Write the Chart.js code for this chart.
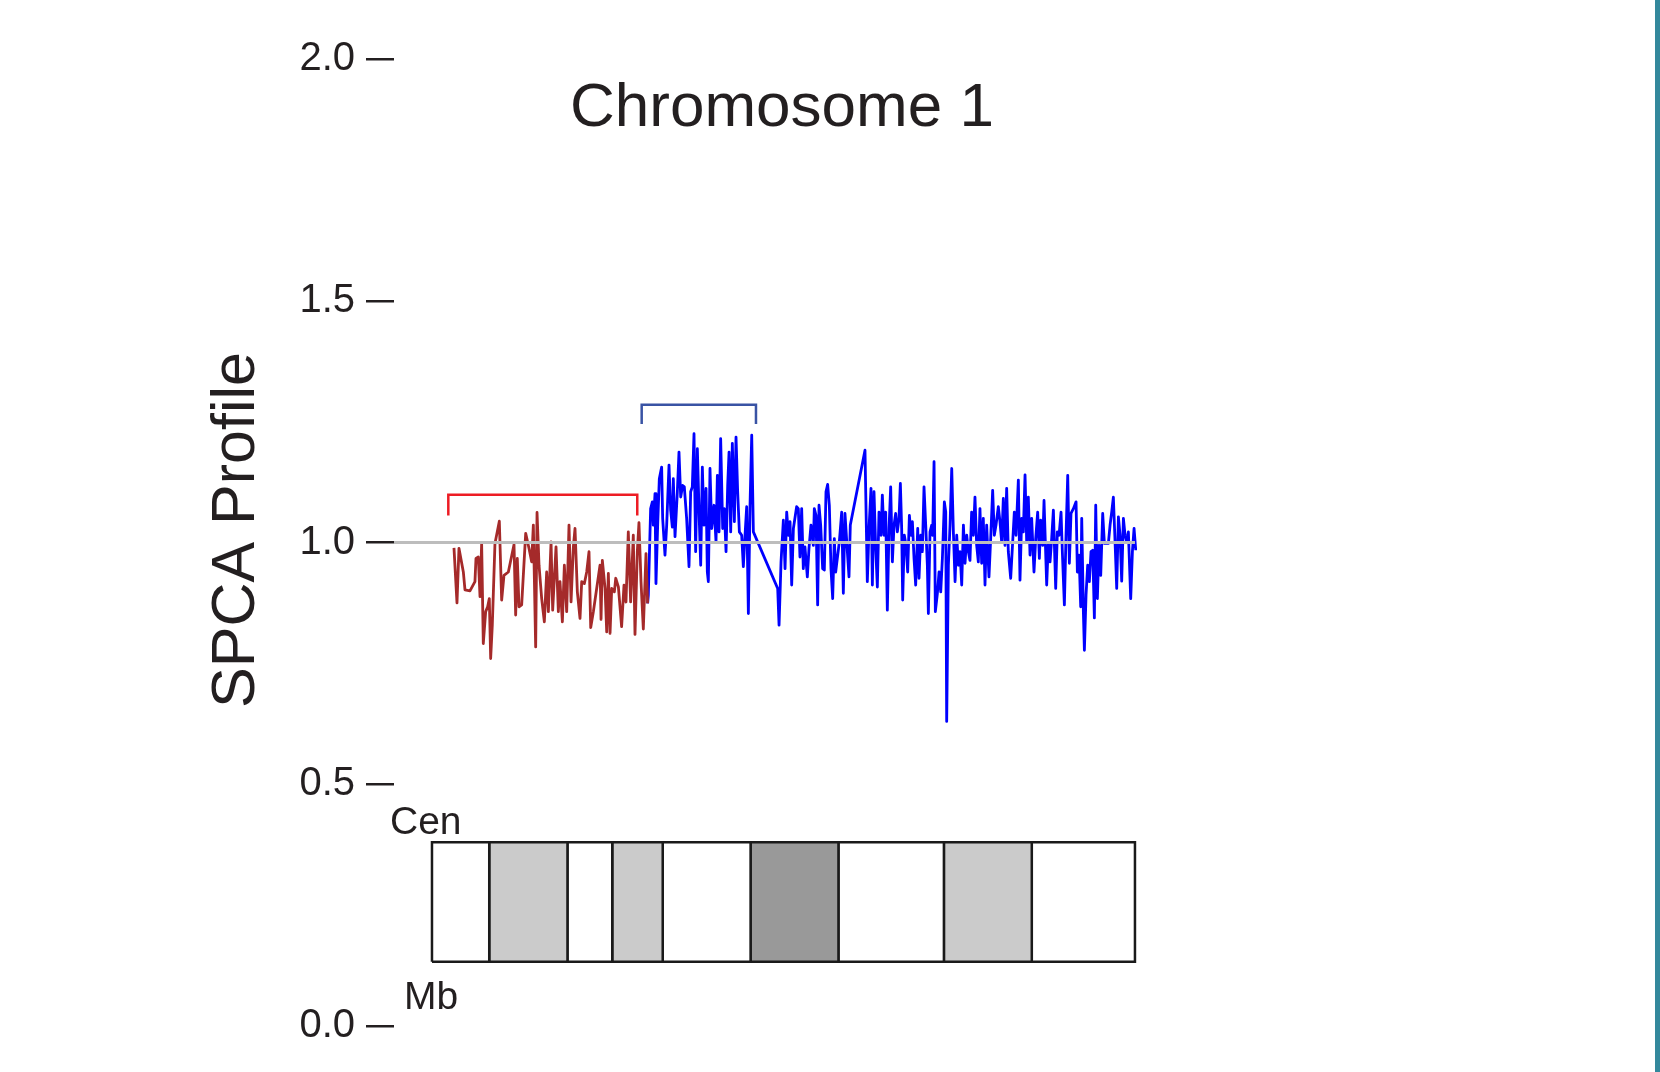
<!DOCTYPE html>
<html>
<head>
<meta charset="utf-8">
<script src="https://cdn.jsdelivr.net/npm/chart.js@4.4.1/dist/chart.umd.min.js"></script>
<style>
    html, body { margin: 0; padding: 0; background: #ffffff; }
    #wrap { position: relative; width: 1660px; height: 1072px; overflow: hidden; }
    #edge { position: absolute; right: 0; top: 0; width: 5px; height: 1072px; background: #33889c; }
</style>
</head>
<body>
<div id="wrap">
    <canvas id="spcaChart" width="1660" height="1072"></canvas>
    <div id="edge"></div>
</div>
<script>
// --- DATA ---
const chartTitle = 'Chromosome 1';
const yTitle = 'SPCA Profile';
const yTicks = [0.0, 0.5, 1.0, 1.5, 2.0];
const baseline = 1.0;

// region 1 (red) positions in Mb and profile values
const redMb = [128.88, 129.41, 129.76, 130.53, 130.82, 131.70, 132.58, 132.76, 133.17, 133.47,
    133.76, 134.05, 134.47, 134.82, 135.11, 135.35, 135.64, 136.11, 136.88, 137.29,
    137.70, 138.47, 139.47, 139.76, 140.05, 140.35, 140.82, 141.53, 142.11, 142.58,
    142.88, 143.29, 143.53, 143.88, 144.35, 144.82, 145.23, 145.53, 146.00, 146.29,
    146.88, 147.29, 147.58, 148.00, 148.35, 148.76, 149.17, 149.53, 149.94, 150.23,
    150.64, 151.11, 151.41, 151.88, 152.29, 152.70, 153.00, 153.47, 154.05, 154.64,
    154.82, 155.05, 155.53, 155.82, 156.11, 156.41, 156.70, 157.17, 157.41, 157.88,
    158.45, 158.87, 159.22, 159.63, 160.04, 160.51, 160.81, 161.22, 161.51, 161.87,
    162.28, 162.75, 163.04];
const redVal = [0.989, 0.875, 0.988, 0.939, 0.902, 0.900, 0.919, 0.967, 0.970, 0.888,
    0.998, 0.791, 0.857, 0.867, 0.884, 0.760, 0.829, 0.998, 1.044, 0.881,
    0.932, 0.939, 0.996, 0.850, 0.967, 0.867, 0.871, 1.019, 0.988, 0.960,
    1.036, 0.784, 1.062, 0.953, 0.884, 0.836, 0.939, 0.857, 1.001, 0.860,
    0.991, 0.857, 0.919, 0.836, 0.953, 0.857, 1.036, 0.877, 0.991, 1.029,
    0.898, 0.843, 0.919, 0.915, 0.939, 0.981, 0.824, 0.857, 0.905, 0.953,
    0.841, 0.963, 0.905, 0.815, 0.936, 0.812, 0.905, 0.898, 0.926, 0.908,
    0.826, 0.912, 0.877, 1.022, 0.877, 1.015, 0.810, 0.981, 1.041, 0.919,
    0.821, 0.977, 0.874];

// rest of the arm (blue)
const blueMb = [163.04,
    163.16, 163.57, 163.87, 164.04, 164.34, 164.51, 164.81, 165.10, 165.51, 165.69,
    166.10, 166.40, 166.81, 167.10, 167.40, 167.57, 167.87, 168.28, 168.57, 168.87,
    169.22, 169.51, 169.92, 170.34, 170.63, 170.92, 171.22, 171.51, 171.81, 172.16,
    172.40, 172.69, 172.98, 173.34, 173.57, 173.75, 174.04, 174.34, 174.75, 175.10,
    175.34, 175.63, 175.92, 176.28, 176.57, 176.87, 177.16, 177.40, 177.69, 177.98,
    178.34, 178.63, 178.92, 179.22, 179.63, 179.92, 180.22, 180.51, 180.81, 181.10,
    181.40, 181.69, 185.98, 186.22, 186.57, 186.98, 187.28, 187.57, 187.87, 188.16,
    188.45, 188.75,
    189.32, 189.62, 189.91, 190.21, 190.50, 190.79, 191.21, 191.50, 191.85, 192.27,
    192.44, 192.74, 193.03, 193.27, 193.56, 193.91, 194.21, 194.50, 194.79, 195.09,
    195.38, 195.68, 195.97, 196.21, 196.50, 196.85, 197.27, 197.56, 197.85, 198.27,
    198.56, 198.79, 201.38, 201.79, 202.09, 202.44, 202.68, 202.97, 203.27, 203.56,
    203.85, 204.21, 204.44, 204.74, 205.03, 205.32, 205.62, 205.91, 206.21, 206.50,
    206.79, 207.09, 207.38, 207.62, 207.85, 208.03, 208.32, 208.62, 208.91, 209.21,
    209.50, 209.74, 210.03, 210.32, 210.68, 210.91, 211.21, 211.50, 211.79, 212.09,
    212.38, 212.56, 212.85, 213.15, 213.32, 213.56, 213.79, 214.15, 214.44, 214.74,
    215.03, 215.38, 215.62, 215.79, 216.09, 216.38, 216.68, 216.97, 217.27, 217.56,
    217.85, 218.15, 218.44, 218.74, 219.03, 219.32, 219.62,
    219.90, 220.19, 220.49, 220.78, 221.08, 221.37, 221.66, 221.96, 222.25, 222.55,
    222.84, 223.25, 223.55, 223.90, 224.19, 224.49, 224.90, 225.19, 225.49, 225.78,
    226.08, 226.37, 226.66, 227.08, 227.43, 227.72, 228.02, 228.43, 228.72, 229.02,
    229.31, 229.61, 229.90, 230.19, 230.49, 230.78, 231.19, 231.49, 231.84, 232.14,
    232.37, 232.72, 232.96, 233.43, 233.72, 234.02, 234.31, 234.61, 235.02, 235.31,
    235.61, 235.96, 236.19, 236.55, 236.84, 237.14, 237.43, 237.72, 238.14, 238.61,
    238.84, 239.14, 239.43, 239.61, 239.90, 240.08, 240.37, 240.66, 240.96, 241.25,
    241.55, 241.84, 242.08, 242.37, 242.66, 242.96, 243.31, 243.61, 244.02, 244.31,
    244.61, 244.90, 245.19, 245.49, 245.78, 246.08, 246.37, 246.66, 246.96, 247.25,
    247.55, 247.84, 248.25, 248.55, 248.84, 249.14];
const blueVal = [0.874,
    0.891, 1.070, 1.084, 1.036, 1.101, 0.915, 1.036, 1.132, 1.156, 1.050,
    0.974, 1.036, 1.160, 1.067, 1.032, 1.132, 1.012, 1.105, 1.187, 1.094,
    1.118, 1.115, 1.050, 0.950, 1.105, 1.115, 1.225, 0.981, 1.194, 1.043,
    0.953, 1.156, 1.036, 1.112, 0.939, 0.919, 1.153, 1.029, 1.077, 1.001,
    1.139, 1.022, 1.215, 1.029, 1.070, 0.981, 1.118, 1.187, 1.022, 1.205,
    1.043, 1.218, 1.105, 1.022, 1.015, 0.950, 1.015, 1.074, 0.853, 1.077,
    1.222, 1.022, 0.905, 0.829, 0.960, 1.046, 0.946, 1.063, 1.015, 1.043,
    0.912, 1.029,
    1.074, 1.070, 0.970, 1.070, 0.946, 0.991, 0.929, 0.988, 1.036, 0.994,
    1.070, 1.056, 0.871, 1.077, 1.036, 0.946, 0.943, 1.105, 1.120, 1.077,
    0.946, 0.884, 1.008, 0.939, 0.967, 1.001, 1.063, 0.895, 1.060, 0.981,
    0.929, 1.036, 1.191, 0.919, 1.029, 1.112, 0.912, 1.105, 0.988, 0.908,
    1.063, 1.015, 1.098, 1.015, 1.063, 0.860, 1.029, 1.115, 0.960, 1.036,
    1.060, 1.022, 1.050, 1.122, 1.029, 0.881, 1.015, 0.994, 0.939, 1.056,
    1.015, 1.043, 0.967, 0.912, 1.029, 0.926, 1.015, 0.981, 1.115, 1.036,
    0.953, 0.853, 1.022, 1.036, 1.015, 1.167, 0.857, 0.895, 0.939, 0.898,
    0.967, 1.084, 1.063, 0.630, 0.953, 1.036, 1.153, 1.022, 0.919, 1.015,
    0.953, 0.981, 0.912, 1.036, 0.957, 1.015, 0.981,
    0.963, 1.063, 1.015, 1.094, 0.994, 0.960, 1.070, 0.957, 1.050, 0.912,
    1.036, 0.929, 1.008, 1.108, 1.015, 1.036, 1.074, 1.043, 1.001, 1.091,
    0.994, 1.112, 0.981, 0.926, 1.001, 1.063, 1.015, 1.129, 0.922, 1.050,
    1.022, 1.140, 1.001, 1.094, 0.974, 1.050, 0.939, 1.008, 1.063, 0.967,
    1.046, 0.994, 1.087, 0.912, 0.998, 0.960, 1.008, 1.067, 0.905, 1.022,
    1.015, 1.063, 0.981, 0.871, 1.015, 1.139, 0.957, 1.060, 1.070, 1.084,
    0.939, 0.974, 0.867, 1.050, 0.857, 0.777, 0.891, 0.953, 0.919, 0.981,
    0.984, 0.844, 1.077, 0.884, 0.994, 0.932, 1.060, 0.998, 0.998, 0.998,
    1.036, 1.063, 1.094, 1.001, 0.905, 1.053, 1.015, 0.920, 1.050, 1.015,
    1.001, 1.022, 0.884, 0.981, 1.029, 0.984];

// bracketed regions (start, end in Mb)
const redRegion = [127.88, 161.21];
const blueRegion = [161.99, 182.15];

// ideogram bands: edges in Mb and stain per band
const bandEdges = [125.0, 135.1, 148.9, 156.8, 165.7, 181.2, 196.7, 215.3, 230.8, 249.0];
const bandStain = ['gneg', 'gpos50', 'gneg', 'gpos50', 'gneg', 'gpos75', 'gneg', 'gpos50', 'gneg'];

// --- STYLE / LAYOUT ---
const FONT = '"Liberation Sans", Arial, Helvetica, sans-serif';
const INK = '#231f20';
const stainColor = { gneg: '#ffffff', gpos50: '#cbcbcb', gpos75: '#999999' };
const ideoLow = 0.133, ideoHigh = 0.380;

function zip(xs, ys) {
    return xs.map((x, i) => ({ x: x, y: ys[i] }));
}
function bracket(region, low, high) {
    return [
        { x: region[0], y: low }, { x: region[0], y: high },
        { x: region[1], y: high }, { x: region[1], y: low }
    ];
}

const lineStyle = {
    pointRadius: 0,
    borderWidth: 2.8,
    borderJoinStyle: 'round',
    fill: false,
    order: 1
};

const datasets = [
    {
        ...lineStyle,
        data: [{ x: 118.3, y: baseline }, { x: bandEdges[bandEdges.length - 1], y: baseline }],
        borderColor: '#bdbdbd',
        borderWidth: 3,
        order: 0
    },
    { ...lineStyle, data: bracket(redRegion, 1.056, 1.099), borderColor: '#ed1c24', borderWidth: 2.5, borderJoinStyle: 'miter' },
    { ...lineStyle, data: bracket(blueRegion, 1.245, 1.285), borderColor: '#3953a4', borderWidth: 2.5, borderJoinStyle: 'miter' },
    { ...lineStyle, data: zip(redMb, redVal), borderColor: '#a52a2a' },
    { ...lineStyle, data: zip(blueMb, blueVal), borderColor: '#0000ff' }
];

// one closed rectangle per band
bandStain.forEach((stain, i) => {
    const x0 = bandEdges[i], x1 = bandEdges[i + 1];
    datasets.push({
        data: [
            { x: x0, y: ideoLow }, { x: x0, y: ideoHigh },
            { x: x1, y: ideoHigh }, { x: x1, y: ideoLow }, { x: x0, y: ideoLow }
        ],
        fill: 'shape',
        backgroundColor: stainColor[stain],
        borderColor: '#1a1a1a',
        borderWidth: 2.5,
        borderJoinStyle: 'miter',
        pointRadius: 0,
        order: 2
    });
});

// texts that sit inside the plot
const textPlugin = {
    id: 'figureText',
    afterDraw(chart) {
        const { ctx, chartArea: a } = chart;
        ctx.save();
        ctx.fillStyle = INK;
        ctx.textBaseline = 'alphabetic';

        // title
        ctx.font = '62px ' + FONT;
        ctx.textAlign = 'center';
        ctx.fillText(chartTitle, a.left + 388, 126);

        // y axis title
        ctx.save();
        ctx.translate(254, 530);
        ctx.rotate(-Math.PI / 2);
        ctx.font = '61px ' + FONT;
        ctx.fillText(yTitle, 0, 0);
        ctx.restore();

        // ideogram labels
        ctx.font = '39px ' + FONT;
        ctx.textAlign = 'left';
        ctx.fillText('Cen', 390, 834);
        ctx.fillText('Mb', 404, 1009);
        ctx.restore();
    }
};

const spcaChart = new Chart(document.getElementById('spcaChart'), {
    type: 'line',
    data: { datasets: datasets },
    options: {
        animation: false,
        responsive: false,
        devicePixelRatio: 1,
        layout: { padding: { left: 0, right: 523, top: 59, bottom: 46 } },
        plugins: {
            legend: { display: false },
            tooltip: { enabled: false },
            title: { display: false }
        },
        scales: {
            x: { type: 'linear', min: 118.3, max: 249.36, display: false },
            y: {
                type: 'linear',
                min: 0,
                max: 2,
                afterBuildTicks: (s) => { s.ticks = yTicks.map(v => ({ value: v })); },
                afterFit: (s) => { s.width = 394; },
                ticks: {
                    padding: 11,
                    color: INK,
                    font: { family: FONT, size: 40 },
                    callback: (v) => Number(v).toFixed(1)
                },
                grid: {
                    drawOnChartArea: false,
                    drawTicks: true,
                    tickLength: 28,
                    lineWidth: 2.5,
                    color: INK
                },
                border: { display: false }
            }
        }
    },
    plugins: [textPlugin]
});
</script>
</body>
</html>
